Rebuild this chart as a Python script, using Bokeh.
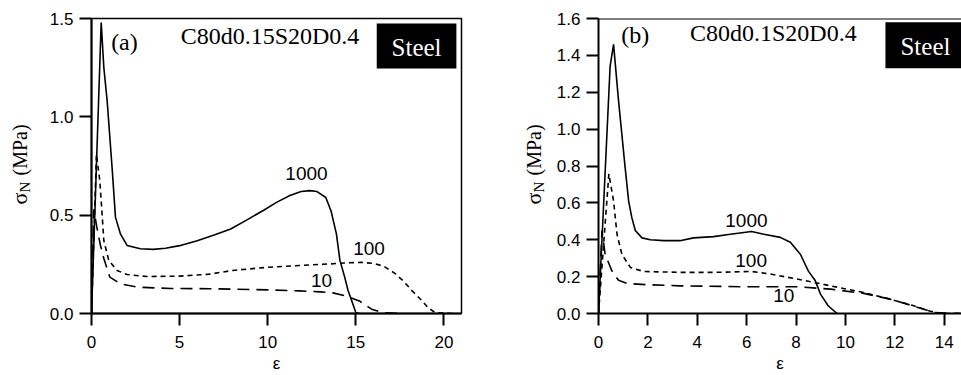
import math
from bokeh.plotting import figure
from bokeh.layouts import row
from bokeh.models import Label, BoxAnnotation, Span, FixedTicker
from bokeh.core.properties import value
from bokeh.embed import file_html
from bokeh.resources import INLINE

# ---------------- data: panel (a) C80d0.15S20D0.4 ----------------
a_x_1000 = [0, 0.55, 0.7, 0.89, 1.17, 1.36, 1.64, 2.02, 2.77, 3.5, 4.2, 5.0, 6.0, 7.0, 7.9, 8.8, 9.75,
            10.5, 11.26, 11.9, 12.4, 12.8, 13.3, 13.6, 13.9, 14.1, 14.37, 14.56, 14.75, 15.0, 15.2]
a_y_1000 = [0, 1.48, 1.25, 1.08, 0.74, 0.49, 0.405, 0.346, 0.329, 0.326, 0.332, 0.345, 0.37, 0.40, 0.43,
            0.475, 0.524, 0.565, 0.60, 0.62, 0.625, 0.62, 0.59, 0.52, 0.405, 0.27, 0.185, 0.117, 0.07, 0.005, 0]
a_x_100 = [0, 0.28, 0.47, 0.6, 0.7, 0.98, 1.45, 2.02, 3.15, 5.0, 6.7, 8.0, 10.0, 11.8, 13.5, 14.6, 15.3,
           16.0, 16.6, 17.2, 17.7, 18.2, 18.7, 19.1, 19.5, 20.5]
a_y_100 = [0, 0.81, 0.676, 0.507, 0.37, 0.27, 0.219, 0.198, 0.188, 0.19, 0.2, 0.219, 0.235, 0.244, 0.252,
           0.258, 0.26, 0.255, 0.24, 0.205, 0.165, 0.115, 0.07, 0.03, 0.005, 0]
a_x_10 = [0, 0.13, 0.3, 0.51, 0.7, 1.04, 1.64, 2.6, 4.5, 6.7, 8.0, 10.0, 11.8, 13.0, 13.7, 14.4, 15.2,
          15.9, 16.5, 17.5]
a_y_10 = [0, 0.53, 0.44, 0.346, 0.28, 0.185, 0.151, 0.134, 0.127, 0.126, 0.124, 0.12, 0.115, 0.11, 0.105,
          0.09, 0.064, 0.022, 0.005, 0]
a_x_ticks = [0, 5, 10, 15, 20]
a_y_ticks = [0.0, 0.5, 1.0, 1.5]

# ---------------- data: panel (b) C80d0.1S20D0.4 ----------------
b_x_1000 = [0, 0.47, 0.61, 0.81, 1.08, 1.22, 1.35, 1.49, 1.76, 2.1, 2.64, 3.3, 3.85, 4.66, 5.34, 6.2,
            6.7, 7.36, 7.77, 8.18, 8.5, 8.78, 8.99, 9.3, 9.66]
b_y_1000 = [0, 1.34, 1.46, 1.156, 0.79, 0.61, 0.52, 0.45, 0.41, 0.40, 0.395, 0.395, 0.41, 0.417, 0.43,
            0.445, 0.43, 0.413, 0.386, 0.32, 0.23, 0.178, 0.105, 0.042, 0.0]
b_x_100 = [0, 0.42, 0.61, 0.75, 0.95, 1.29, 1.82, 3.3, 4.66, 6.2, 6.96, 8.04, 9.4, 10.74, 11.8, 12.77,
           13.4, 13.8, 14.7]
b_y_100 = [0, 0.757, 0.61, 0.43, 0.32, 0.25, 0.228, 0.223, 0.223, 0.228, 0.214, 0.187, 0.15, 0.114,
           0.078, 0.042, 0.014, 0, 0]
b_x_10 = [0, 0.14, 0.27, 0.54, 0.81, 1.15, 1.96, 3.3, 6.0, 8.04, 9.4, 10.74, 11.8, 12.77, 13.6, 14.7]
b_y_10 = [0, 0.45, 0.32, 0.232, 0.18, 0.163, 0.156, 0.15, 0.145, 0.145, 0.132, 0.109, 0.078, 0.04, 0.005, 0]
b_x_ticks = [0, 2, 4, 6, 8, 10, 12, 14]
b_y_ticks = [0.0, 0.2, 0.4, 0.6, 0.8, 1.0, 1.2, 1.4, 1.6]

curve_names = ["1000", "100", "10"]
a_label_pos = [(12.2, 0.713), (15.75, 0.329), (13.06, 0.168)]
b_label_pos = [(5.99, 0.504), (6.18, 0.286), (7.5, 0.096)]

y_label_parts = ["σ", "N", "(MPa)"]

SANS = "Liberation Sans"
SERIF = "Liberation Serif"
dashes = ["solid", "5 4", "12 7"]
H = 375
TOP, BOTTOM = 18, 62


def make_ylabel_fig(width, cx):
    """Narrow strip carrying the rotated y-axis title  sigma_N (MPa).
    Its frame is aligned with the panels' frames (top 18, bottom 62), so the
    y range is set so that one unit = one pixel, counted from the window bottom."""
    f = figure(width=width, height=H, output_backend="svg", toolbar_location=None,
               x_range=(0, width), y_range=(BOTTOM, H - TOP), x_axis_location=None, y_axis_location=None,
               min_border_left=0, min_border_right=0, min_border_top=TOP, min_border_bottom=BOTTOM)
    f.grid.visible = False
    f.outline_line_color = None
    ang = math.pi / 2
    f.text(x=[cx], y=[H - 204], text=[y_label_parts[0]], angle=ang, text_font=value(SERIF),
           text_font_size="22px", text_align="left", text_baseline="middle", text_color="black")
    f.text(x=[cx + 5], y=[H - 192], text=[y_label_parts[1]], angle=ang, text_font=value(SERIF),
           text_font_size="15px", text_align="left", text_baseline="middle", text_color="black")
    f.text(x=[cx], y=[H - 175], text=[y_label_parts[2]], angle=ang, text_font=value(SERIF),
           text_font_size="20px", text_align="left", text_baseline="middle", text_color="black")
    return f


def make_panel(width, left, right, xmax, ymax, xticks, yticks, series, label_pos,
               tag, tag_xy, title, title_xy, box, steel_xy, outline):
    p = figure(width=width, height=H, output_backend="svg", toolbar_location=None,
               x_range=(0, xmax), y_range=(0, ymax),
               min_border_left=left, min_border_right=right, min_border_top=TOP, min_border_bottom=BOTTOM)
    p.grid.visible = False
    if outline:
        p.outline_line_color = "black"
        p.outline_line_width = 1.5
        p.outline_line_alpha = 1
    else:
        p.outline_line_color = None
        p.add_layout(Span(location=ymax, dimension="width", line_color="black", line_width=2))
    for ax in (p.xaxis[0], p.yaxis[0]):
        ax.axis_line_width = 2
        ax.major_tick_line_width = 2
        ax.major_tick_out = 12
        ax.major_tick_in = 0
        ax.minor_tick_line_color = None
        ax.major_label_text_font = SANS
        ax.major_label_text_font_size = "17px"
        ax.major_label_text_color = "black"
        ax.axis_line_color = "black"
        ax.major_tick_line_color = "black"
    p.xaxis.ticker = FixedTicker(ticks=xticks)
    p.yaxis.ticker = FixedTicker(ticks=yticks)
    p.yaxis.major_label_overrides = {t: f"{t:.1f}" for t in yticks}
    p.xaxis.major_label_standoff = 10
    p.yaxis.major_label_standoff = 6
    p.xaxis.axis_label = "ε"
    p.xaxis.axis_label_text_font = SANS
    p.xaxis.axis_label_text_font_style = "normal"
    p.xaxis.axis_label_text_font_size = "17px"
    p.xaxis.axis_label_text_color = "black"
    p.xaxis.axis_label_standoff = 3

    for (xs, ys), dash in zip(series, dashes):
        p.line(xs, ys, line_color="black", line_width=1.6, line_dash=dash)

    for name, (lx, ly) in zip(curve_names, label_pos):
        p.add_layout(Label(x=lx, y=ly, text=name, text_font=SANS, text_font_size="19px",
                           text_align="center", text_baseline="middle", text_color="black"))

    p.add_layout(Label(x=tag_xy[0], y=tag_xy[1], text=tag, text_font=SERIF, text_font_size="24px",
                       text_align="center", text_baseline="middle", text_color="black"))
    p.add_layout(Label(x=title_xy[0], y=title_xy[1], text=title, text_font=SERIF, text_font_size="24px",
                       text_align="center", text_baseline="middle", text_color="black"))
    p.add_layout(BoxAnnotation(left=box[0], right=box[1], bottom=box[2], top=box[3],
                               fill_color="black", fill_alpha=1, line_color=None))
    p.add_layout(Label(x=steel_xy[0], y=steel_xy[1], text="Steel", text_font=SERIF, text_font_size="25px",
                       text_color="white", text_align="center", text_baseline="middle"))
    return p


la = make_ylabel_fig(40, 19)
pa = make_panel(440, 51, 19, 21, 1.5, a_x_ticks, a_y_ticks,
                [(a_x_1000, a_y_1000), (a_x_100, a_y_100), (a_x_10, a_y_10)], a_label_pos,
                "(a)", (1.87, 1.379), "C80d0.15S20D0.4", (10.13, 1.413),
                (16.19, 20.71, 1.246, 1.474), (18.45, 1.352), True)

lb = make_ylabel_fig(70, 53)
pb = make_panel(411, 48, 0, 14.7, 1.6, b_x_ticks, b_y_ticks,
                [(b_x_1000, b_y_1000), (b_x_100, b_y_100), (b_x_10, b_y_10)], b_label_pos,
                "(b)", (1.49, 1.51), "C80d0.1S20D0.4", (7.08, 1.52),
                (11.62, 14.8, 1.33, 1.58), (13.24, 1.447), False)

layout = row(la, pa, lb, pb)
open("out.html", "w").write(file_html(layout, INLINE))
